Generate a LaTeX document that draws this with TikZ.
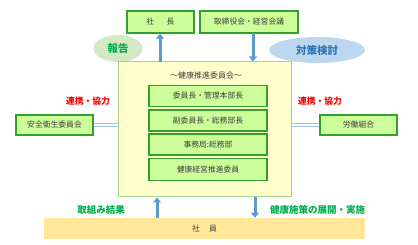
\documentclass[tikz,border=0pt]{standalone}
\usepackage{fontspec}
\setmainfont{Noto Sans CJK JP}
\usetikzlibrary{arrows.meta,shapes.geometric}
\definecolor{boxfill}{HTML}{CCFF99}
\definecolor{boxline}{HTML}{33A02C}
\definecolor{mainfill}{HTML}{FFFFCC}
\definecolor{mainline}{HTML}{A9D18E}
\definecolor{arrowblue}{HTML}{5B9BD5}
\definecolor{linkblue}{HTML}{9DC3E6}
\definecolor{repfill}{HTML}{D5E8C4}
\definecolor{repgreen}{HTML}{00B050}
\definecolor{taifill}{HTML}{BDD7EE}
\definecolor{taiblue}{HTML}{2E75B6}
\definecolor{bandfill}{HTML}{FFE699}
\definecolor{txtgray}{HTML}{404040}
\tikzset{
  gbox/.style={draw=boxline, line width=1.3pt, fill=boxfill, inner sep=0pt, text=txtgray, font=\fontsize{7.8}{9}\selectfont},
  bigarrow/.style={draw=arrowblue, line width=3pt, -{Triangle[length=5pt,width=8pt]}},
  linkline/.style={double=white, draw=linkblue, line width=1pt, double distance=1.6pt},
  redlabel/.style={text=red, font=\bfseries\fontsize{8.8}{10}\selectfont},
  greenlabel/.style={text=repgreen, font=\bfseries\fontsize{9.5}{11}\selectfont},
}
\begin{document}
\begin{tikzpicture}[x=1pt,y=-1pt]
\useasboundingbox (0,0) rectangle (418,245);
% ellipses
\node[ellipse, fill=repfill, minimum width=49pt, minimum height=27pt, inner sep=0pt, text=repgreen, font=\bfseries\fontsize{10.5}{12}\selectfont] (hokoku) at (118,48.5) {報告};
\node[ellipse, fill=taifill, minimum width=96pt, minimum height=26pt, inner sep=0pt, text=taiblue, font=\bfseries\fontsize{10.5}{12}\selectfont] (taisaku) at (317,50) {対策検討};
% top boxes
\node[gbox, minimum width=67pt, minimum height=22pt] (shacho) at (160.5,22) {社\hspace{1.6em}長};
\node[gbox, minimum width=98pt, minimum height=22pt] (torishimari) at (249,22) {取締役会・経営会議};
% main box
\node[draw=mainline, line width=1pt, fill=mainfill, minimum width=173pt, minimum height=135pt, inner sep=0pt] (main) at (204.5,129.5) {};
\node[text=txtgray, font=\fontsize{8}{9}\selectfont, inner sep=0pt] (title) at (206,75) {～健康推進委員会～};
\node[gbox, minimum width=118pt, minimum height=21pt] (b1) at (208,96) {委員長・管理本部長};
\node[gbox, minimum width=118pt, minimum height=21pt] (b2) at (208,120.5) {副委員長・総務部長};
\node[gbox, minimum width=118pt, minimum height=21pt] (b3) at (208,144.5) {事務局:総務部};
\node[gbox, minimum width=118pt, minimum height=22pt] (b4) at (208,169.5) {健康経営推進委員};
% side boxes
\node[gbox, minimum width=77pt, minimum height=20pt] (anzen) at (54.5,125) {安全衛生委員会};
\node[gbox, minimum width=77pt, minimum height=20pt] (rodo) at (358.5,125) {労働組合};
\draw[linkline] (anzen.east) -- (main.west |- anzen.east);
\draw[linkline] (rodo.west) -- (main.east |- rodo.west);
\node[redlabel] (renkeiL) at (88,101) {連携・協力};
\node[redlabel] (renkeiR) at (320,101) {連携・協力};
% band
\node[fill=bandfill, minimum width=321pt, minimum height=21pt, inner sep=0pt, text=txtgray, font=\fontsize{7.8}{9}\selectfont] (shain) at (204.5,228.5) {社\hspace{1.2em}員};
% arrows
\coordinate (upT) at (160,62);
\draw[bigarrow] (upT) -- (shacho.south -| upT);
\coordinate (dnT) at (253,33);
\draw[bigarrow] (dnT) -- (main.north -| dnT);
\coordinate (upB) at (157,218);
\draw[bigarrow] (upB) -- (main.south -| upB);
\coordinate (dnB) at (255,197);
\draw[bigarrow] (dnB) -- (shain.north -| dnB);
\node[greenlabel] (kekka) at (101,209.5) {取組み結果};
\node[greenlabel] (tenkai) at (317.5,209.5) {健康施策の展開・実施};
\end{tikzpicture}
\end{document}
